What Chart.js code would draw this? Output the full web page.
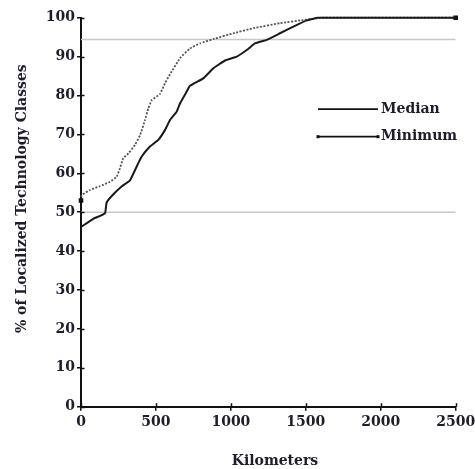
<!DOCTYPE html>
<html>
<head>
<meta charset="utf-8">
<script src="https://cdn.jsdelivr.net/npm/chart.js@4"></script>
<style>
  html,body{margin:0;padding:0;background:#fff;}
  #wrap{width:475px;height:469px;position:relative;}
</style>
</head>
<body>
<div id="wrap"><canvas id="c" width="475" height="469"></canvas></div>
<script>
// ---- data ----
const minimumKm  = [0, 5, 60, 127, 193, 238, 260, 282, 316, 360, 394, 427, 449, 472, 527, 560, 594, 661, 727, 794, 883, 1016, 1150, 1328, 1483, 1572, 1600, 2500];
const minimumPct = [53, 54.4, 55.7, 56.7, 57.8, 59.1, 61.3, 63.9, 65.1, 67.3, 69.8, 73.7, 76.7, 78.8, 80.4, 83.1, 85.5, 89.6, 92.1, 93.4, 94.5, 96.0, 97.3, 98.6, 99.4, 99.8, 100, 100];
const medianKm   = [0, 82, 160, 171, 216, 271, 327, 371, 405, 460, 516, 560, 594, 638, 661, 705, 727, 816, 883, 961, 1039, 1106, 1161, 1239, 1328, 1417, 1506, 1580, 2500];
const medianPct  = [46.2, 48.3, 49.7, 52.5, 54.6, 56.6, 58.2, 61.7, 64.3, 66.9, 68.6, 71.1, 73.7, 75.8, 78.0, 81.0, 82.5, 84.4, 87.0, 89.0, 90.0, 91.7, 93.4, 94.3, 96.0, 97.7, 99.3, 100, 100];
const refLevels  = [50, 94.4];
const xRange     = [0, 2500];
const yRange     = [0, 100];
const xTickStep  = 500;
const yTickStep  = 10;
const seriesNames = ['Median', 'Minimum'];
const xTitle = 'Kilometers';
const yTitle = '% of Localized Technology Classes';

const FONT = '"DejaVu Serif", "Liberation Serif", serif';
const TXT = '#1d1d2b';

const toPts = (xs, ys) => xs.map((v, i) => ({x: v, y: ys[i]}));

const refSets = refLevels.map(l => ({
  label: 'ref' + l,
  data: toPts(xRange, [l, l]),
  borderColor: '#c8c8c8',
  borderWidth: 1.5,
  pointRadius: 0,
  tension: 0,
  order: 3
}));

const lastMin = minimumKm.length - 1;
const datasets = [
  ...refSets,
  {
    label: seriesNames[1],
    data: toPts(minimumKm, minimumPct),
    borderColor: '#555',
    borderWidth: 1.8,
    borderDash: [2, 1.5],
    pointStyle: 'rect',
    pointRadius: ctx => (ctx.dataIndex === 0 || ctx.dataIndex === lastMin) ? 2 : 0,
    pointBackgroundColor: '#111',
    pointBorderColor: '#111',
    tension: 0.1,
    clip: 6,
    order: 2
  },
  {
    label: seriesNames[0],
    data: toPts(medianKm, medianPct),
    borderColor: '#1a1a1a',
    borderWidth: 2,
    pointRadius: 0,
    tension: 0.1,
    clip: 6,
    order: 1
  }
];

const decor = {
  id: 'decor',
  afterDraw(chart) {
    const {ctx, chartArea: a, scales: {x, y}} = chart;
    ctx.save();
    // inner halves of tick marks
    ctx.strokeStyle = '#111';
    ctx.lineWidth = 1.5;
    y.ticks.forEach(t => {
      const py = Math.round(y.getPixelForValue(t.value)) + 0.5;
      ctx.beginPath(); ctx.moveTo(a.left, py); ctx.lineTo(a.left + 3.5, py); ctx.stroke();
    });
    x.ticks.forEach(t => {
      const px = Math.round(x.getPixelForValue(t.value)) + 0.5;
      ctx.beginPath(); ctx.moveTo(px, a.bottom); ctx.lineTo(px, a.bottom - 3.5); ctx.stroke();
    });
    // axis titles
    ctx.fillStyle = TXT;
    ctx.font = 'bold 14px ' + FONT;
    ctx.textAlign = 'center';
    ctx.textBaseline = 'middle';
    ctx.fillText(xTitle, a.left + 194, a.bottom + 55);
    ctx.save();
    ctx.translate(22, a.top + 181);
    ctx.rotate(-Math.PI / 2);
    ctx.fillText(yTitle, 0, 0);
    ctx.restore();
    // legend
    const lx0 = a.left + 237, lx1 = a.left + 297;
    const rows = [
      {name: seriesNames[0], y: a.top + 91.5, caps: false},
      {name: seriesNames[1], y: a.top + 119, caps: true}
    ];
    rows.forEach(r => {
      ctx.strokeStyle = '#111';
      ctx.lineWidth = 1.8;
      ctx.beginPath(); ctx.moveTo(lx0, r.y); ctx.lineTo(lx1, r.y); ctx.stroke();
      if (r.caps) {
        ctx.fillStyle = '#111';
        ctx.fillRect(lx0 - 1.5, r.y - 1.5, 3, 3);
        ctx.fillRect(lx1 - 1.5, r.y - 1.5, 3, 3);
      }
      ctx.fillStyle = TXT;
      ctx.textAlign = 'left';
      ctx.fillText(r.name, lx1 + 3, r.y);
    });
    ctx.restore();
  }
};

new Chart(document.getElementById('c'), {
  type: 'line',
  data: {datasets},
  plugins: [decor],
  options: {
    responsive: false,
    animation: false,
    events: [],
    layout: {padding: {left: 0, right: 19.3, top: 17.7, bottom: 0}},
    plugins: {legend: {display: false}, tooltip: {enabled: false}},
    scales: {
      x: {
        type: 'linear',
        min: xRange[0], max: xRange[1],
        afterFit: s => { s.height = 62.3; s.paddingLeft = 0; s.paddingRight = 0; },
        ticks: {stepSize: xTickStep, color: TXT, font: {family: FONT, size: 14, weight: 'bold'}, padding: 3, maxRotation: 0, callback: v => String(v)},
        grid: {drawOnChartArea: false, drawTicks: true, tickLength: 4, color: '#111', lineWidth: 1.5},
        border: {display: true, color: '#111', width: 2}
      },
      y: {
        type: 'linear',
        min: yRange[0], max: yRange[1],
        afterFit: s => { s.width = 81; s.paddingTop = 0; s.paddingBottom = 0; },
        ticks: {stepSize: yTickStep, color: TXT, font: {family: FONT, size: 14, weight: 'bold'}, padding: 2, callback: v => String(v)},
        grid: {drawOnChartArea: false, drawTicks: true, tickLength: 4, color: '#111', lineWidth: 1.5},
        border: {display: true, color: '#111', width: 2}
      }
    }
  }
});
</script>
</body>
</html>
